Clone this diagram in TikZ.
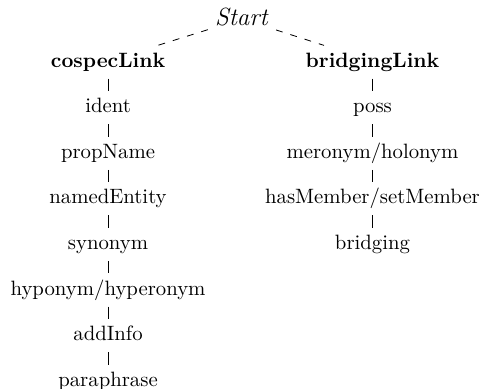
\documentclass[tikz,border=0pt]{standalone}
\usepackage{tikz}
\tikzset{
    tree node/.style={
        inner sep=3.33pt, text height=1.6ex, text depth=0.25ex % same box for every label
    },
    tree dash/.style={
        line width=0.4pt, dash pattern=on 3.3pt off 3.9pt
    }
}

\begin{document}
\begin{tikzpicture}
\useasboundingbox (0,0) rectangle (8.165,-6.573);
\node[tree node, anchor=base, font=\large] (S) at (4.099,-0.424) {\textit{Start}};
\node[tree node] (C) at (1.830,-1.033) {\textbf{cospecLink}};
\node[tree node] (C1) at (1.830,-1.806) {ident};
\node[tree node] (C2) at (1.830,-2.578) {propName};
\node[tree node] (C3) at (1.830,-3.351) {namedEntity};
\node[tree node] (C4) at (1.830,-4.123) {synonym};
\node[tree node] (C5) at (1.830,-4.896) {hyponym/hyperonym};
\node[tree node] (C6) at (1.830,-5.668) {addInfo};
\node[tree node] (C7) at (1.830,-6.441) {paraphrase};
\node[tree node] (B) at (6.310,-1.033) {\textbf{bridgingLink}};
\node[tree node] (B1) at (6.310,-1.806) {poss};
\node[tree node] (B2) at (6.310,-2.578) {meronym/holonym};
\node[tree node] (B3) at (6.310,-3.351) {hasMember/setMember};
\node[tree node] (B4) at (6.310,-4.123) {bridging};
\draw[tree dash] (S) -- (C);
\draw[tree dash] (S) -- (B);
\draw[shorten <=1pt] (C) -- (C1);
\draw[shorten <=1pt] (C1) -- (C2);
\draw[shorten <=1pt] (C2) -- (C3);
\draw[shorten <=1pt] (C3) -- (C4);
\draw[shorten <=1pt] (C4) -- (C5);
\draw[shorten <=1pt] (C5) -- (C6);
\draw[shorten <=1pt] (C6) -- (C7);
\draw[shorten <=1pt] (B) -- (B1);
\draw[shorten <=1pt] (B1) -- (B2);
\draw[shorten <=1pt] (B2) -- (B3);
\draw[shorten <=1pt] (B3) -- (B4);
\end{tikzpicture}
\end{document}
